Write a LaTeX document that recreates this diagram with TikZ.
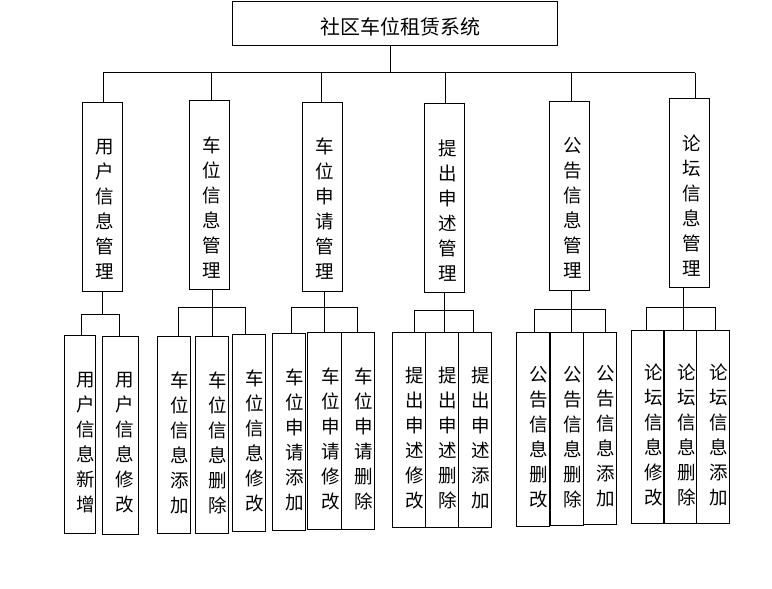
\documentclass[tikz,border=0pt]{standalone}
\usepackage{fontspec}
\newfontfamily\cjk{Noto Sans CJK SC}
\begin{document}
\begin{tikzpicture}[x=1bp, y=-1bp, line width=1bp,
  sysbox/.style={draw,minimum width=325bp,minimum height=44bp,inner sep=0pt},
  midbox/.style={draw,minimum width=40bp,minimum height=189bp,inner sep=0pt},
  leafbox/.style={draw,minimum width=33bp,minimum height=197bp,inner sep=0pt},
  systxt/.style={xshift=5bp,yshift=-3bp,font=\cjk\fontsize{20bp}{24bp}\selectfont},
  midtxt/.style={xshift=2.5bp,yshift=-12bp,align=center,font=\cjk\fontsize{18.5bp}{25bp}\selectfont},
  leaftxt/.style={xshift=6bp,yshift=-8bp,align=center,font=\cjk\fontsize{18.5bp}{25bp}\selectfont}]
\useasboundingbox (0,0) rectangle (772,589);
% top
\node[sysbox,label={[systxt]center:社区车位租赁系统}] (sys) at (395,24) {};
% second level
\node[midbox,label={[midtxt]center:{用\\户\\信\\息\\管\\理}}] (m1) at (102,197.3) {};
\node[midbox,label={[midtxt]center:{车\\位\\信\\息\\管\\理}}] (m2) at (209.5,195.3) {};
\node[midbox,label={[midtxt]center:{车\\位\\申\\请\\管\\理}}] (m3) at (322,196.8) {};
\node[midbox,label={[midtxt]center:{提\\出\\申\\述\\管\\理}}] (m4) at (444.8,198.3) {};
\node[midbox,label={[midtxt]center:{公\\告\\信\\息\\管\\理}}] (m5) at (569.8,196.3) {};
\node[midbox,label={[midtxt]center:{论\\坛\\信\\息\\管\\理}}] (m6) at (689.3,193.3) {};
% leaves
\node[leafbox,minimum width=31.4bp,minimum height=198bp,label={[leaftxt]center:{用\\户\\信\\息\\新\\增}}] (a1) at (80,434.2) {};
\node[leafbox,minimum width=36.4bp,minimum height=198bp,label={[leaftxt,xshift=-2bp]center:{用\\户\\信\\息\\修\\改}}] (a2) at (120.5,435) {};
\node[leafbox,label={[leaftxt]center:{车\\位\\信\\息\\添\\加}}] (b1) at (173.8,434.8) {};
\node[leafbox,label={[leaftxt]center:{车\\位\\信\\息\\删\\除}}] (b2) at (211.8,434.8) {};
\node[leafbox,label={[leaftxt]center:{车\\位\\信\\息\\修\\改}}] (b3) at (248.8,432.7) {};
\node[leafbox,label={[leaftxt]center:{车\\位\\申\\请\\添\\加}}] (c1) at (289,431.7) {};
\node[leafbox,minimum width=34.4bp,label={[leaftxt]center:{车\\位\\申\\请\\修\\改}}] (c2) at (324.5,430.8) {};
\node[leafbox,label={[leaftxt]center:{车\\位\\申\\请\\删\\除}}] (c3) at (358,430.8) {};
\node[leafbox,minimum height=195bp,label={[leaftxt]center:{提\\出\\申\\述\\修\\改}}] (d1) at (408.5,429.8) {};
\node[leafbox,minimum height=195bp,label={[leaftxt]center:{提\\出\\申\\述\\删\\除}}] (d2) at (441.8,429.8) {};
\node[leafbox,minimum height=195bp,label={[leaftxt]center:{提\\出\\申\\述\\添\\加}}] (d3) at (474.8,429.8) {};
\node[leafbox,minimum height=194bp,label={[leaftxt]center:{公\\告\\信\\息\\删\\改}}] (e1) at (533.2,429.2) {};
\node[leafbox,minimum height=193bp,label={[leaftxt]center:{公\\告\\信\\息\\删\\除}}] (e2) at (566.5,428.7) {};
\node[leafbox,minimum height=192bp,label={[leaftxt]center:{公\\告\\信\\息\\添\\加}}] (e3) at (600,428.2) {};
\node[leafbox,minimum height=193bp,label={[leaftxt]center:{论\\坛\\信\\息\\修\\改}}] (f1) at (647.5,427) {};
\node[leafbox,minimum height=193bp,label={[leaftxt]center:{论\\坛\\信\\息\\删\\除}}] (f2) at (680.3,427) {};
\node[leafbox,minimum height=193bp,label={[leaftxt]center:{论\\坛\\信\\息\\添\\加}}] (f3) at (712.8,427) {};
% bus
\coordinate (u0) at (390,73);
\coordinate (u1) at (103.3,73);
\coordinate (u2) at (211.7,73);
\coordinate (u3) at (321.7,73);
\coordinate (u4) at (445.5,73);
\coordinate (u5) at (571,73);
\coordinate (u6) at (695,73);
\draw (u0 |- sys.south) -- (u0);
\draw (u1) -- (u6);
\draw (u1) -- (u1 |- m1.north) (u2) -- (u2 |- m2.north) (u3) -- (u3 |- m3.north);
\draw (u4) -- (u4 |- m4.north) (u5) -- (u5 |- m5.north) (u6) -- (u6 |- m6.north);
% bars under each group
\coordinate (gaM) at (102.3,314);
\coordinate (ga1) at (81.5,314);
\coordinate (ga2) at (119.3,314);
\draw (gaM |- m1.south) -- (gaM) (ga1) -- (ga2);
\draw (ga1) -- (ga1 |- a1.north) (ga2) -- (ga2 |- a2.north);
\coordinate (gb1) at (178.3,307);
\coordinate (gb2) at (212.3,307);
\coordinate (gb3) at (245,307);
\draw (gb2 |- m2.south) -- (gb2) (gb1) -- (gb3);
\draw (gb1) -- (gb1 |- b1.north) (gb2) -- (gb2 |- b2.north) (gb3) -- (gb3 |- b3.north);
\coordinate (gc1) at (291.7,307.3);
\coordinate (gc2) at (324.3,307.3);
\coordinate (gc3) at (357.3,307.3);
\draw (gc2 |- m3.south) -- (gc2) (gc1) -- (gc3);
\draw (gc1) -- (gc1 |- c1.north) (gc2) -- (gc2 |- c2.north) (gc3) -- (gc3 |- c3.north);
\coordinate (gd1) at (414.7,310);
\coordinate (gd2) at (444.3,310);
\coordinate (gd3) at (473.3,310);
\draw (gd2 |- m4.south) -- (gd2) (gd1) -- (gd3);
\draw (gd1) -- (gd1 |- d1.north) (gd2) -- (gd2 |- d2.north) (gd3) -- (gd3 |- d3.north);
\coordinate (ge1) at (534.3,309.3);
\coordinate (ge2) at (571.7,309.3);
\coordinate (ge3) at (605.7,309.3);
\draw (ge2 |- m5.south) -- (ge2) (ge1) -- (ge3);
\draw (ge1) -- (ge1 |- e1.north) (ge2) -- (ge2 |- e2.north) (ge3) -- (ge3 |- e3.north);
\coordinate (gf1) at (646.7,307.3);
\coordinate (gf2) at (683.3,307.3);
\coordinate (gf3) at (715,307.3);
\draw (gf2 |- m6.south) -- (gf2) (gf1) -- (gf3);
\draw (gf1) -- (gf1 |- f1.north) (gf2) -- (gf2 |- f2.north) (gf3) -- (gf3 |- f3.north);
\end{tikzpicture}
\end{document}
